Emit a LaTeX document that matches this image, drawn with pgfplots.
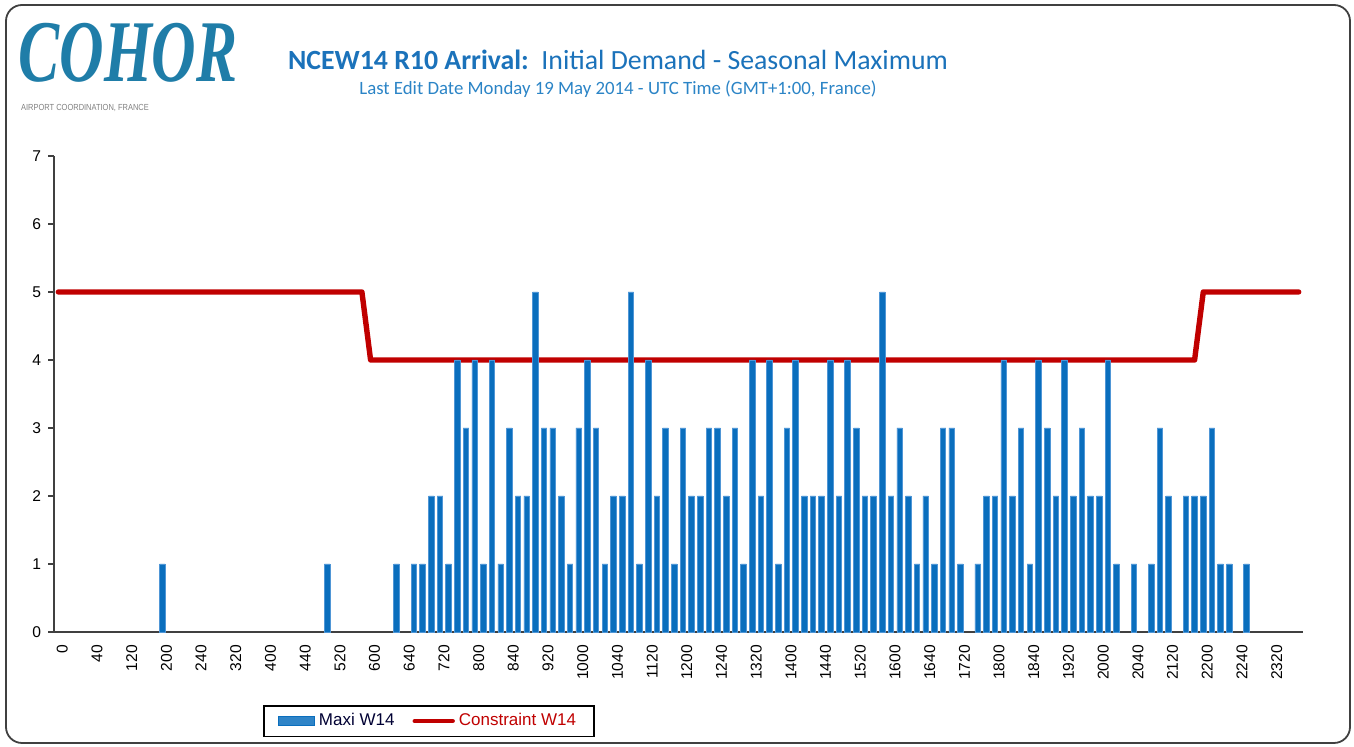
\documentclass[border=0pt]{standalone}
\usepackage{fontspec}
\setmainfont{Liberation Sans}
\newfontfamily\carlito{Carlito}
\newfontfamily\logofont{Liberation Serif}
\usepackage{pgfplots}
\pgfplotsset{compat=1.18}

\definecolor{barblue}{HTML}{0A6EBD}
\definecolor{baredge}{HTML}{4F96D6}
\definecolor{limitred}{HTML}{C00000}
\definecolor{titleblue}{HTML}{1B72BA}
\definecolor{subblue}{HTML}{2B84C6}
\definecolor{logoblue}{HTML}{1F7DA8}
\definecolor{framegray}{HTML}{404040}

\pgfplotsset{
  barlegend/.style={legend image code/.code={\draw[fill=barblue!85!white,draw=barblue,line width=0.6pt] (0pt,-2.2pt) rectangle (18pt,2.2pt);}},
  linelegend/.style={legend image code/.code={\draw[limitred,line width=2.2pt,line cap=round] (0pt,0pt) -- (19pt,0pt);}},
}

\begin{document}
\begin{tikzpicture}
\path[use as bounding box] (0,0) rectangle (677pt,373.5pt);
\draw[framegray,line width=0.9pt,rounded corners=8pt] (3pt,2pt) rectangle (675pt,371pt);

% logo and titles
\node[logoblue] at (64pt,347pt) {\scalebox{0.7}[1]{\fontsize{44}{44}\selectfont\logofont\bfseries\itshape COHOR}};
\node[gray] at (42.5pt,319.5pt) {\scalebox{0.85}[1]{\fontsize{4.4}{5}\selectfont AIRPORT COORDINATION, FRANCE}};
\node[titleblue] at (309pt,343.5pt) {\fontsize{13.9}{16}\selectfont\carlito\textbf{NCEW14 R10 Arrival:}\ \ Initial Demand - Seasonal Maximum};
\node[subblue] at (309pt,329pt) {\fontsize{9.4}{11}\selectfont\carlito Last Edit Date Monday 19 May 2014 - UTC Time (GMT+1:00, France)};

\begin{axis}[
  at={(27pt,57.5pt)}, anchor=south west,
  scale only axis, width=624.5pt, height=238pt,
  xmin=-0.5, xmax=143.5, ymin=0, ymax=7,
  axis x line=bottom, axis y line=left,
  axis line style={-, framegray, line width=0.9pt},
  tick align=outside,
  ytick={0,1,...,7},
  ytick style={framegray, line width=0.7pt},
  major tick length=3pt,
  xtick={0,4,...,140},
  xticklabels={0,40,120,200,240,320,400,440,520,600,640,720,800,840,920,1000,1040,1120,1200,1240,1320,1400,1440,1520,1600,1640,1720,1800,1840,1920,2000,2040,2120,2200,2240,2320},
  x tick style={draw=none},
  minor xtick={-0.5,0.5,...,143.5},
  minor x tick style={framegray, line width=0.7pt},
  minor tick length=3pt,
  /pgf/number format/assume math mode=true,
  tick label style={font=\fontsize{7.8}{9}\selectfont},
  x tick label style={rotate=90, anchor=east, yshift=-2pt},
  clip=false,
  legend style={at={(0.1673,-0.1534)}, anchor=north west, draw=black, line width=0.8pt,
    font=\fontsize{8.5}{10}\selectfont, inner xsep=7pt, inner ysep=1.8pt,
    /tikz/every even column/.append style={column sep=7pt}},
  legend columns=2,
]
\addlegendimage{barlegend}
\addlegendentry{\textcolor{black!80!blue}{Maxi W14}}
\addlegendimage{linelegend}
\addlegendentry{\textcolor{limitred}{Constraint W14}}

\addplot[forget plot, limitred, line width=2.7pt, line join=round, line cap=round] coordinates {
(0,5) (35,5) (36,4) (131,4) (132,5) (143,5)};

\addplot[forget plot, ybar, bar width=0.64, bar shift=0pt, fill=barblue, draw=baredge, line width=0.4pt] coordinates {
(12,1)(31,1)(39,1)(41,1)(42,1)(43,2)(44,2)(45,1)(46,4)(47,3)(48,4)(49,1)(50,4)(51,1)(52,3)(53,2)(54,2)(55,5)(56,3)(57,3)(58,2)(59,1)(60,3)(61,4)(62,3)(63,1)(64,2)(65,2)(66,5)(67,1)(68,4)(69,2)(70,3)(71,1)(72,3)(73,2)(74,2)(75,3)(76,3)(77,2)(78,3)(79,1)(80,4)(81,2)(82,4)(83,1)(84,3)(85,4)(86,2)(87,2)(88,2)(89,4)(90,2)(91,4)(92,3)(93,2)(94,2)(95,5)(96,2)(97,3)(98,2)(99,1)(100,2)(101,1)(102,3)(103,3)(104,1)(106,1)(107,2)(108,2)(109,4)(110,2)(111,3)(112,1)(113,4)(114,3)(115,2)(116,4)(117,2)(118,3)(119,2)(120,2)(121,4)(122,1)(124,1)(126,1)(127,3)(128,2)(130,2)(131,2)(132,2)(133,3)(134,1)(135,1)(137,1)};
\end{axis}
\end{tikzpicture}
\end{document}
